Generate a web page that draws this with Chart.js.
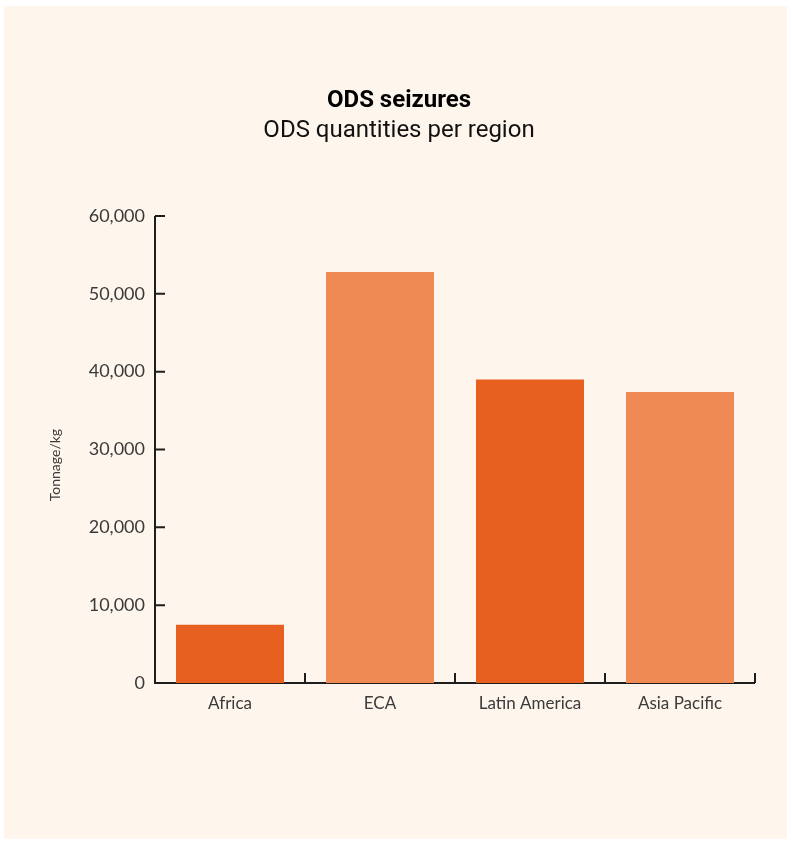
<!DOCTYPE html>
<html>
<head>
<meta charset="utf-8">
<script src="https://cdn.jsdelivr.net/npm/chart.js@4"></script>
<style>
  html, body { margin: 0; padding: 0; background: #ffffff; }
  #wrap { width: 792px; height: 843px; }
</style>
</head>
<body>
<div id="wrap"><canvas id="chart"></canvas></div>
<script>
const regions = ['Africa', 'ECA', 'Latin America', 'Asia Pacific'];
const tonnage = [7500, 52800, 39000, 37400];
const barColors = ['#e8601f', '#f08a55', '#e8601f', '#f08a55'];
const yTicks = [0, 10000, 20000, 30000, 40000, 50000, 60000];
const yTitle = 'Tonnage/kg';

const axisColor = '#1e1e1e';
const textColor = '#3a3a3a';

// cream panel behind everything
const panelBg = {
  id: 'panelBg',
  beforeDraw(chart) {
    const ctx = chart.ctx;
    ctx.save();
    ctx.fillStyle = '#fef5ec';
    ctx.fillRect(4, 6, 783, 833);
    ctx.restore();
  },
};

// axis lines with inward ticks, drawn under the bars
const axesLines = {
  id: 'axesLines',
  beforeDatasetsDraw(chart) {
    const { ctx, chartArea, scales } = chart;
    const x = scales.x;
    const y = scales.y;
    const left = chartArea.left;
    const bottom = y.getPixelForValue(0);
    const top = y.getPixelForValue(60000);
    ctx.save();
    ctx.strokeStyle = axisColor;
    ctx.lineWidth = 2;
    ctx.beginPath();
    ctx.moveTo(left, top);
    ctx.lineTo(left, bottom);
    ctx.lineTo(chartArea.right, bottom);
    yTicks.forEach(v => {
      if (v === 0) return;
      const py = y.getPixelForValue(v);
      ctx.moveTo(left, py);
      ctx.lineTo(left + 10, py);
    });
    const half = (x.getPixelForValue(1) - x.getPixelForValue(0)) / 2;
    regions.forEach((r, i) => {
      const px = x.getPixelForValue(i) + half;
      ctx.moveTo(px, bottom);
      ctx.lineTo(px, bottom - 10);
    });
    ctx.stroke();

    // y axis title, sitting a little below the axis middle like the original
    ctx.translate(55, y.getPixelForValue(28000));
    ctx.rotate(-Math.PI / 2);
    ctx.fillStyle = textColor;
    ctx.font = '14px Lato';
    ctx.textAlign = 'center';
    ctx.textBaseline = 'middle';
    ctx.fillText(yTitle, 0, 0);
    ctx.restore();
  },
};

const config = {
  type: 'bar',
  data: {
    labels: [...regions],
    datasets: [
      {
        data: [...tonnage],
        backgroundColor: barColors,
        borderWidth: 0,
        categoryPercentage: 0.72,
        barPercentage: 1,
      },
    ],
  },
  options: {
    responsive: true,
    maintainAspectRatio: false,
    animation: false,
    layout: {
      padding: { top: 86.5, left: 43, right: 37, bottom: 0 },
    },
    plugins: {
      legend: false,
      tooltip: { enabled: false },
      title: {
        display: true,
        text: 'ODS seizures',
        color: '#000000',
        font: { family: 'Roboto', size: 24, weight: 'bold' },
        padding: { top: 0, bottom: 1.3 },
      },
      subtitle: {
        display: true,
        text: 'ODS quantities per region',
        color: '#111111',
        font: { family: 'Roboto', size: 24, weight: 'normal' },
        padding: { top: 0, bottom: 70.6 },
      },
    },
    scales: {
      x: {
        grid: { display: false, drawTicks: false },
        border: { display: false },
        ticks: {
          color: textColor,
          font: { family: 'Lato', size: 17 },
          padding: 10,
        },
        afterFit(scale) { scale.height = 160; },
      },
      y: {
        min: 0,
        max: 60000,
        grid: { display: false, drawTicks: false },
        border: { display: false },
        afterBuildTicks(scale) {
          scale.ticks = yTicks.map(v => ({ value: v }));
        },
        ticks: {
          color: textColor,
          font: { family: 'Lato', size: 18 },
          padding: 10,
          callback: v => v.toLocaleString('en-US'),
        },
        afterFit(scale) { scale.width = 112; },
      },
    },
  },
  plugins: [panelBg, axesLines],
};

new Chart(document.getElementById('chart'), config);
</script>
</body>
</html>
